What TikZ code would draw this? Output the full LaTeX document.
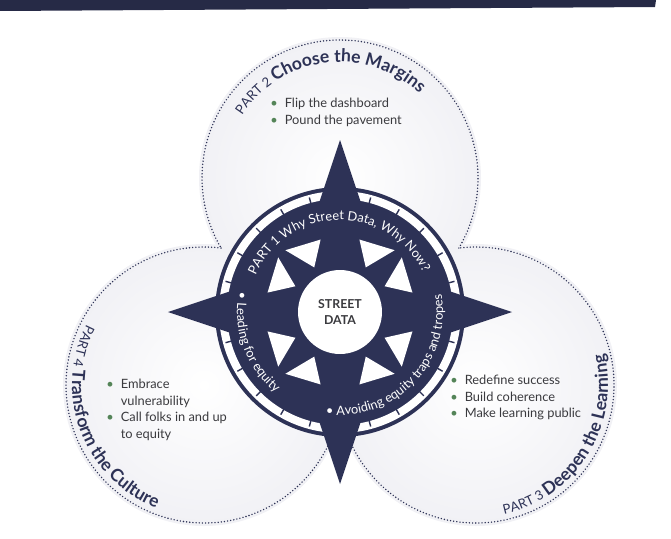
\documentclass[tikz,border=0pt]{standalone}
\usepackage{fontspec}
\setmainfont{Lato}
\usetikzlibrary{decorations.text}

\definecolor{navy}{RGB}{45,50,86}
\definecolor{banner}{RGB}{38,42,70}
\definecolor{mist}{RGB}{214,215,226}
\definecolor{mistlight}{RGB}{238,238,243}
\definecolor{leaf}{RGB}{84,132,88}
\definecolor{ink}{RGB}{58,58,62}

\pgfdeclareradialshading{haze}{\pgfpoint{0bp}{0bp}}{color(0bp)=(white); color(30bp)=(mistlight); color(50bp)=(mist)}

\newcommand\bul{\textcolor{leaf}{\textbullet}}
\newcommand\partfont{\fontsize{7.5}{9}\selectfont}
\newcommand\headfont{\fontsize{10}{12}\bfseries\selectfont}
\newcommand\ringfont{\fontsize{7.3}{9}\selectfont}

\begin{document}
\begin{tikzpicture}[x=0.02cm, y=0.02cm,
    rim/.style={navy, line width=0.9pt, line cap=round, dash pattern=on 0pt off 1.8pt},
    disc/.style={shading=haze},
    needle/.style={fill=navy},
    tick/.style={navy, line width=0.8pt},
    facet/.style={fill=white},
    bullets/.style={inner sep=0pt, anchor=base west, text=ink, font=\fontsize{7.3}{9.4}\selectfont},
    hub/.style={circle, fill=white, minimum size=1.68cm, inner sep=0pt, align=center, text=ink, font=\bfseries\fontsize{7}{9}\selectfont},
    ringtext/.style={decorate, decoration={text along path, text align=center, text color=white, text={#1}}},
    headtext/.style={decorate, decoration={text along path, text align=center, text color=navy, text={#1}}}
  ]
  \useasboundingbox (-340,-226) rectangle (331,312);
  \fill[banner] (-340,312) -- (316,312) -- (315,305) -- (-340,301) -- cycle;

  \coordinate (part2) at (0,134);
  \coordinate (part3) at (136,-73);
  \coordinate (part4) at (-136,-73);

  \foreach \c in {part2,part4,part3}
    \shade[disc] (\c) circle[radius=141];

  % dotted rim, outer arcs only
  \draw[rim] (part2) ++(-30.5:138) arc[start angle=-30.5, end angle=210.5, radius=138];
  \draw[rim] (part4) ++(82.9:138) arc[start angle=82.9, end angle=350.2, radius=138];
  \draw[rim] (part3) ++(189.8:138) arc[start angle=189.8, end angle=457.1, radius=138];

  % compass
  \fill[navy] (0,0) circle[radius=125];
  \draw[white, line width=0.16cm] (0,0) circle[radius=117];
  \foreach \a in {15,30,...,345}
    \draw[tick] (\a:111) -- (\a:118.5);
  \foreach \a in {0,90,180,270}
    \fill[needle, rotate=\a] (172,0) -- (100,24) -- (60,0) -- (100,-24) -- cycle;
  \foreach \m in {0,90,180,270}
    \foreach \s in {1,-1}
      \fill[facet] ({\m+15*\s}:75) -- ({\m+41.5*\s}:82.5) -- ({\m+30*\s}:51.5) -- cycle;
  \node[hub] (hub) at (0,0) {STREET\\DATA};

  \path[ringtext={|\ringfont|PART 1 Why Street Data, Why Now?}] (168:92) arc[start angle=168, end angle=14, radius=92];
  \path[ringtext={|\ringfont|• Avoiding equity traps and tropes}] (248:103) arc[start angle=248, end angle=384, radius=103];
  \path[ringtext={|\ringfont|• Leading for equity}] (148:103) arc[start angle=148, end angle=252, radius=103];

  \path[headtext={|\partfont|PART 2 |\headfont|Choose the Margins}, shift={(part2)}] (171:116) arc[start angle=171, end angle=23, radius=116];
  \path[headtext={|\partfont|PART 4 |\headfont|Transform the Culture}, shift={(part4)}] (140:132) arc[start angle=140, end angle=261.5, radius=132];
  \path[headtext={|\partfont|PART 3 |\headfont|Deepen the Learning}, shift={(part3)}] (268:132) arc[start angle=268, end angle=388, radius=132];

  \node[bullets] (list2) at (-70,204.5) {\begin{tabular}[t]{@{}l@{\hspace{4pt}}l@{}}
    \bul & Flip the dashboard\\
    \bul & Pound the pavement
  \end{tabular}};
  \node[bullets] (list4) at (-234,-76.5) {\begin{tabular}[t]{@{}l@{\hspace{4pt}}l@{}}
    \bul & Embrace\\
         & vulnerability\\
    \bul & Call folks in and up\\
         & to equity
  \end{tabular}};
  \node[bullets] (list3) at (110,-72.5) {\begin{tabular}[t]{@{}l@{\hspace{4pt}}l@{}}
    \bul & Redefine success\\
    \bul & Build coherence\\
    \bul & Make learning public
  \end{tabular}};
\end{tikzpicture}
\end{document}
